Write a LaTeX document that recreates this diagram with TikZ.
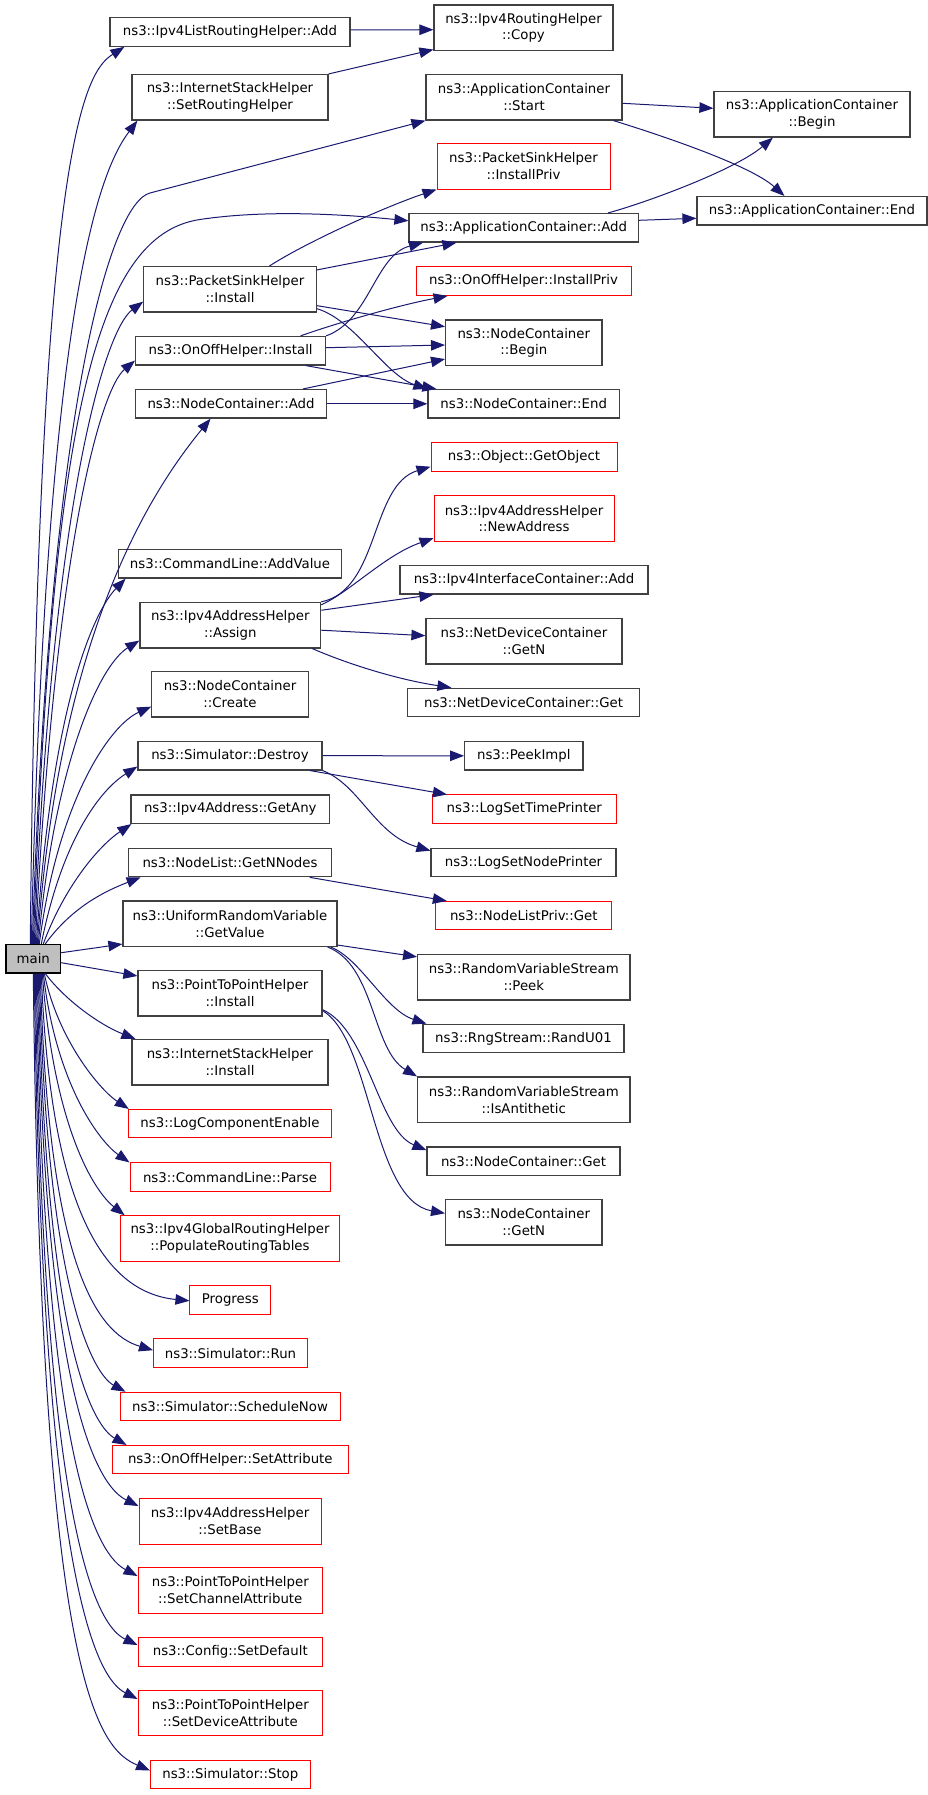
\documentclass[tikz,border=0pt]{standalone}
\usepackage{fontspec}
\setmainfont{DejaVu Sans}
\usepackage{xcolor}
\usepackage{tikz}
\usetikzlibrary{arrows.meta}
\definecolor{edgeblue}{HTML}{191970}
\definecolor{boxgray}{HTML}{404040}
\definecolor{mainfill}{HTML}{BFBFBF}

\begin{document}
\begin{tikzpicture}[x=1pt, y=-1pt,
    fn/.style={draw=boxgray, line width=1.2pt, fill=white, inner sep=0pt, minimum height=28.5pt, align=center, font=\fontsize{13.3}{16.7}\selectfont},
    fn2/.style={fn, minimum height=45.5pt},
    fnred/.style={fn, draw=red, line width=1pt},
    fnred2/.style={fnred, minimum height=45.5pt},
    call/.style={draw=edgeblue, line width=1pt, -{Triangle[length=14pt, width=10.5pt]}}]
    \useasboundingbox (0,0) rectangle (928,1795);

    \node[fn, fill=mainfill, draw=black, minimum width=54.7pt] (main) at (33.3,958.7) {main};

    % callees of main
    \node[fn, minimum width=240pt] (ilra) at (230,32) {ns3::Ipv4ListRoutingHelper::Add};
    \node[fn2, minimum width=196pt] (isrh) at (230,97.3) {ns3::InternetStackHelper\\::SetRoutingHelper};
    \node[fn2, minimum width=172.5pt] (psi) at (230,289.3) {ns3::PacketSinkHelper\\::Install};
    \node[fn, minimum width=190pt] (ooi) at (230.6,350.7) {ns3::OnOffHelper::Install};
    \node[fn, minimum width=191.7pt] (nca) at (231,403.8) {ns3::NodeContainer::Add};
    \node[fn, minimum width=223.6pt] (clav) at (230,563.8) {ns3::CommandLine::AddValue};
    \node[fn2, minimum width=180.7pt] (assign) at (230.3,625.2) {ns3::Ipv4AddressHelper\\::Assign};
    \node[fn2, minimum width=156.3pt] (create) at (230,694.3) {ns3::NodeContainer\\::Create};
    \node[fn, minimum width=184pt] (destroy) at (230,755.7) {ns3::Simulator::Destroy};
    \node[fn, minimum width=198.6pt] (getany) at (230.3,809.2) {ns3::Ipv4Address::GetAny};
    \node[fn, minimum width=203.5pt] (getnn) at (230,862.5) {ns3::NodeList::GetNNodes};
    \node[fn2, minimum width=214pt] (getval) at (230,923.7) {ns3::UniformRandomVariable\\::GetValue};
    \node[fn2, minimum width=184pt] (p2pi) at (230,993.3) {ns3::PointToPointHelper\\::Install};
    \node[fn2, minimum width=196pt] (isi) at (230,1062.2) {ns3::InternetStackHelper\\::Install};
    \node[fnred, minimum width=203.5pt] (lce) at (230,1123.7) {ns3::LogComponentEnable};
    \node[fnred, minimum width=200pt] (clp) at (230,1177.2) {ns3::CommandLine::Parse};
    \node[fnred2, minimum width=219.7pt] (prt) at (230,1238.5) {ns3::Ipv4GlobalRoutingHelper\\::PopulateRoutingTables};
    \node[fnred, minimum width=80.7pt] (progress) at (230.3,1299.8) {Progress};
    \node[fnred, minimum width=154pt] (run) at (230.5,1353.2) {ns3::Simulator::Run};
    \node[fnred, minimum width=220pt] (sched) at (230,1406.5) {ns3::Simulator::ScheduleNow};
    \node[fnred, minimum width=236.6pt] (setattr) at (230.3,1459.7) {ns3::OnOffHelper::SetAttribute};
    \node[fnred2, minimum width=182pt] (setbase) at (230,1521.3) {ns3::Ipv4AddressHelper\\::SetBase};
    \node[fnred2, minimum width=184.5pt] (setchan) at (230.3,1590.3) {ns3::PointToPointHelper\\::SetChannelAttribute};
    \node[fnred, minimum width=184.5pt] (setdef) at (230.3,1651.8) {ns3::Config::SetDefault};
    \node[fnred2, minimum width=184.5pt] (setdev) at (230.3,1713.2) {ns3::PointToPointHelper\\::SetDeviceAttribute};
    \node[fnred, minimum width=159.5pt] (stop) at (230.3,1774.5) {ns3::Simulator::Stop};

    % second level
    \node[fn2, minimum width=179pt] (copy) at (523.5,27.7) {ns3::Ipv4RoutingHelper\\::Copy};
    \node[fn2, minimum width=196pt] (start) at (524,97.3) {ns3::ApplicationContainer\\::Start};
    \node[fnred2, minimum width=173pt] (psip) at (523.5,166.3) {ns3::PacketSinkHelper\\::InstallPriv};
    \node[fn, minimum width=229.4pt] (acadd) at (523.7,227.8) {ns3::ApplicationContainer::Add};
    \node[fnred, minimum width=215pt] (oop) at (523.5,281.2) {ns3::OnOffHelper::InstallPriv};
    \node[fn2, minimum width=156.4pt] (ncbegin) at (523.8,342.7) {ns3::NodeContainer\\::Begin};
    \node[fn, minimum width=191.4pt] (ncend) at (523.7,403.8) {ns3::NodeContainer::End};
    \node[fnred, minimum width=186pt] (getobj) at (524,457.2) {ns3::Object::GetObject};
    \node[fnred2, minimum width=180pt] (newaddr) at (524,518.5) {ns3::Ipv4AddressHelper\\::NewAddress};
    \node[fn, minimum width=248pt] (ifcadd) at (524,579.8) {ns3::Ipv4InterfaceContainer::Add};
    \node[fn2, minimum width=196pt] (ndgetn) at (524,641.3) {ns3::NetDeviceContainer\\::GetN};
    \node[fn, minimum width=232pt] (ndget) at (523.6,702.5) {ns3::NetDeviceContainer::Get};
    \node[fn, minimum width=118.3pt] (peek) at (523.8,755.8) {ns3::PeekImpl};
    \node[fnred, minimum width=183.4pt] (timep) at (524.3,809.2) {ns3::LogSetTimePrinter};
    \node[fn, minimum width=185pt] (nodep) at (523.5,862.5) {ns3::LogSetNodePrinter};
    \node[fnred, minimum width=175.7pt] (nlpget) at (523.8,915.7) {ns3::NodeListPriv::Get};
    \node[fn2, minimum width=212.3pt] (rvpeek) at (523.8,977.2) {ns3::RandomVariableStream\\::Peek};
    \node[fn, minimum width=201pt] (randu) at (523.5,1038.5) {ns3::RngStream::RandU01};
    \node[fn2, minimum width=212.3pt] (antith) at (523.8,1099.8) {ns3::RandomVariableStream\\::IsAntithetic};
    \node[fn, minimum width=193pt] (ncget) at (523.5,1161.2) {ns3::NodeContainer::Get};
    \node[fn2, minimum width=156.4pt] (ncgetn) at (523.8,1222.3) {ns3::NodeContainer\\::GetN};

    % third level
    \node[fn2, minimum width=196pt] (acbegin) at (812,114.3) {ns3::ApplicationContainer\\::Begin};
    \node[fn, minimum width=230pt] (acend) at (812,210.8) {ns3::ApplicationContainer::End};

    % main, upwards
    \draw[call] ([xshift=-3pt]main.north) .. controls (38,140) and (85,72) .. ([xshift=15pt]ilra.south west);
    \draw[call] ([xshift=-2pt]main.north) .. controls (46,300) and (100,170) .. ([xshift=6pt]isrh.south west);
    \draw[call] ([xshift=-1pt]main.north) .. controls (50,400) and (111,203) .. (150,193) -- (start.south west);
    \draw[call] (main.north) .. controls (52,420) and (95,235) .. (200,219.5) .. controls (270,209) and (350,215) .. ([yshift=7pt]acadd.west);
    \draw[call] ([xshift=1pt]main.north) .. controls (52,500) and (105,330) .. ([yshift=11pt]psi.south west);
    \draw[call] ([xshift=2pt]main.north) .. controls (55,550) and (100,390) .. ([yshift=5pt]ooi.south west);
    \draw[call] ([xshift=4pt]main.north) .. controls (55,700) and (115,535) .. ([xshift=76pt]nca.south west);
    \draw[call] ([xshift=3pt]main.north) .. controls (52,700) and (95,610) .. ([xshift=8pt]clav.south west);
    \draw[call] ([xshift=5pt]main.north) .. controls (55,760) and (100,665) .. ([yshift=8pt]assign.south west);
    \draw[call] ([xshift=6pt]main.north) .. controls (58,800) and (110,725) .. ([yshift=11pt]create.south west);
    \draw[call] ([xshift=8pt]main.north) .. controls (62,840) and (100,790) .. ([yshift=4pt]destroy.south west);
    \draw[call] ([xshift=10pt]main.north) .. controls (65,885) and (100,845) .. ([xshift=1pt]getany.south west);
    \draw[call] ([xshift=12pt]main.north) .. controls (70,910) and (100,893) .. ([xshift=13pt]getnn.south west);
    \draw[call] ([yshift=6pt]main.east) -- ([yshift=3pt]getval.south west);
    \draw[call] ([yshift=-4pt]main.east) -- ([yshift=-6pt]p2pi.north west);
    % main, downwards
    \draw[call] ([xshift=12pt]main.south) .. controls (65,1000) and (100,1025) .. ([xshift=4pt]isi.north west);
    \draw[call] ([xshift=11pt]main.south) .. controls (58,1040) and (100,1090) .. ([xshift=1pt]lce.north west);
    \draw[call] ([xshift=10pt]main.south) .. controls (56,1085) and (100,1142) .. (clp.north west);
    \draw[call] ([xshift=9pt]main.south) .. controls (54,1130) and (95,1192) .. ([xshift=5pt]prt.north west);
    \draw[call] ([xshift=8pt]main.south) .. controls (50,1200) and (100,1292) .. ([yshift=-1pt]progress.west);
    \draw[call] ([xshift=7pt]main.south) .. controls (48,1260) and (95,1333) .. ([yshift=3pt]run.west);
    \draw[call] ([xshift=6pt]main.south) .. controls (47,1300) and (95,1375) .. ([xshift=6pt]sched.north west);
    \draw[call] ([xshift=5pt]main.south) .. controls (46,1355) and (95,1427) .. ([xshift=15pt]setattr.north west);
    \draw[call] ([xshift=4pt]main.south) .. controls (45,1410) and (100,1487) .. ([yshift=-8pt]setbase.north west);
    \draw[call] ([xshift=3pt]main.south) .. controls (44,1480) and (100,1556) .. ([yshift=-9pt]setchan.north west);
    \draw[call] ([xshift=2pt]main.south) .. controls (43,1550) and (100,1627) .. ([yshift=-8pt]setdef.north west);
    \draw[call] ([xshift=1pt]main.south) .. controls (42,1600) and (100,1680) .. ([yshift=-9pt]setdev.north west);
    \draw[call] (main.south) .. controls (41,1680) and (97,1748) .. ([yshift=4pt]stop.west);

    % second level calls
    \draw[call] ([yshift=2pt]ilra.east) -- ([yshift=-2pt]copy.west);
    \draw[call] (isrh.north east) -- ([yshift=1.5pt]copy.south west);
    \draw[call] ([yshift=-6pt]start.east) -- ([yshift=6pt]acbegin.west);
    \draw[call] ([xshift=-9pt]start.south east) .. controls (660,135) and (750,165) .. ([xshift=88pt]acend.north west);
    \draw[call] ([xshift=-31pt]acadd.north east) .. controls (645,203) and (735,170) .. ([xshift=59.5pt]acbegin.south west);
    \draw[call] ([yshift=7.5pt]acadd.east) -- ([yshift=-7.5pt]acend.west);
    \draw[call] ([xshift=39.5pt]psi.north) .. controls (310,240) and (390,205) .. (psip.south west);
    \draw[call] ([yshift=-4pt]psi.north east) -- ([xshift=48pt]acadd.south west);
    \draw[call] ([yshift=7pt]psi.south east) -- ([yshift=16pt]ncbegin.west);
    \draw[call] ([yshift=4pt]psi.south east) .. controls (355,320) and (385,375) .. (ncend.north west);
    \draw[call] (ooi.north east) .. controls (370,320) and (375,255) .. ([xshift=14.6pt]acadd.south west);
    \draw[call] ([xshift=70pt]ooi.north) .. controls (340,322) and (400,305) .. ([xshift=32pt]oop.south west);
    \draw[call] ([yshift=3pt]ooi.east) -- ([yshift=-2.3pt]ncbegin.west);
    \draw[call] ([xshift=75pt]ooi.south) -- ([xshift=9pt]ncend.north west);
    \draw[call] ([xshift=72pt]nca.north) -- ([yshift=7pt]ncbegin.south west);
    \draw[call] (nca.east) -- (ncend.west);
    \draw[call] (assign.north east) .. controls (380,590) and (370,485) .. ([yshift=-9.5pt]getobj.west);
    \draw[call] ([yshift=-3pt]assign.north east) .. controls (350,592) and (385,555) .. ([yshift=3.6pt]newaddr.south west);
    \draw[call] ([yshift=-8.4pt]assign.north east) -- ([xshift=34pt]ifcadd.south west);
    \draw[call] ([yshift=-5pt]assign.east) -- ([yshift=5.6pt]ndgetn.west);
    \draw[call] ([xshift=-9pt]assign.south east) .. controls (350,665) and (400,680) .. ([xshift=44.4pt]ndget.north west);
    \draw[call] (destroy.east) -- (peek.west);
    \draw[call] ([xshift=-12.6pt]destroy.south east) -- ([xshift=14.8pt]timep.north west);
    \draw[call] (destroy.south east) .. controls (360,785) and (375,835) .. ([yshift=-3pt]nodep.north west);
    \draw[call] ([xshift=-22.6pt]getnn.south east) -- ([xshift=11.4pt]nlpget.north west);
    \draw[call] ([yshift=2pt]getval.south east) -- ([yshift=-3pt]rvpeek.north west);
    \draw[call] ([xshift=-7pt]getval.south east) .. controls (360,958) and (385,1010) .. ([xshift=4pt]randu.north west);
    \draw[call] ([xshift=-10pt]getval.south east) .. controls (375,965) and (372,1050) .. (antith.north west);
    \draw[call] ([yshift=7pt]p2pi.south east) .. controls (368,1030) and (378,1130) .. ([yshift=11pt]ncget.west);
    \draw[call] ([yshift=6pt]p2pi.south east) .. controls (372,1040) and (372,1200) .. ([yshift=9pt]ncgetn.west);
\end{tikzpicture}
\end{document}
